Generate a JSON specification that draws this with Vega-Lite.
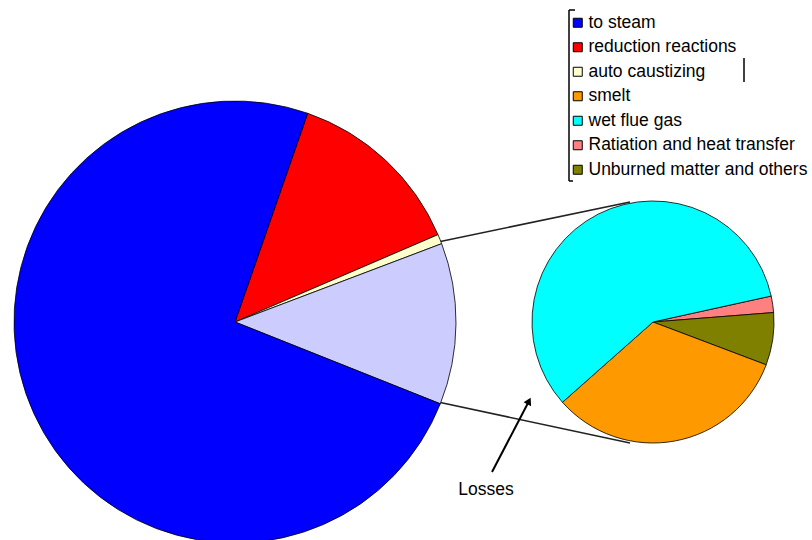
{
  "$schema": "https://vega.github.io/schema/vega-lite/v6.json",
  "width": 812,
  "height": 540,
  "autosize": {"type": "none"},
  "padding": 0,
  "background": "white",
  "config": {"view": {"stroke": null}},
  "data": {"values": [{}]},
  "datasets": {
    "big": [
      {"name": "reduction reactions", "value": 13.2, "ord": 1},
      {"name": "auto caustizing", "value": 0.7, "ord": 2},
      {"name": "Losses", "value": 11.8, "ord": 3},
      {"name": "to steam", "value": 74.3, "ord": 4}
    ],
    "small": [
      {"name": "Ratiation and heat transfer", "value": 2.2, "ord": 1},
      {"name": "Unburned matter and others", "value": 7.0, "ord": 2},
      {"name": "smelt", "value": 32.7, "ord": 3},
      {"name": "wet flue gas", "value": 58.1, "ord": 4}
    ]
  },
  "resolve": {"scale": {"theta": "independent"}},
  "layer": [
    {
      "mark": {"type": "rule", "color": "#222", "strokeWidth": 1.6},
      "encoding": {
        "x": {"datum": 438, "type": "quantitative", "scale": {"domain": [0, 812], "nice": false, "zero": false}, "axis": null},
        "y": {"datum": 242, "type": "quantitative", "scale": {"domain": [0, 540], "nice": false, "zero": false, "reverse": true}, "axis": null},
        "x2": {"datum": 630},
        "y2": {"datum": 202}
      }
    },
    {
      "mark": {"type": "rule", "color": "#222", "strokeWidth": 1.6},
      "encoding": {
        "x": {"datum": 438, "type": "quantitative"},
        "y": {"datum": 402, "type": "quantitative"},
        "x2": {"datum": 630},
        "y2": {"datum": 443}
      }
    },
    {
      "data": {"name": "big"},
      "mark": {"type": "arc", "radius": 221, "stroke": "#000", "strokeWidth": 0.8},
      "encoding": {
        "x": {"datum": 235, "type": "quantitative"},
        "y": {"datum": 322, "type": "quantitative"},
        "theta": {"field": "value", "type": "quantitative", "stack": true, "scale": {"range": [0.3351, 6.6183]}},
        "order": {"field": "ord", "type": "quantitative"},
        "color": {
          "field": "name", "type": "nominal",
          "scale": {
            "domain": ["to steam", "reduction reactions", "auto caustizing", "smelt", "wet flue gas", "Ratiation and heat transfer", "Unburned matter and others", "Losses"],
            "range": ["#0000FF", "#FF0000", "#FFFFCC", "#FF9900", "#00FFFF", "#FF8080", "#808000", "#CCCCFF"]
          },
          "legend": {
            "orient": "none", "legendX": 569, "legendY": 14, "title": null,
            "values": ["to steam", "reduction reactions", "auto caustizing", "smelt", "wet flue gas", "Ratiation and heat transfer", "Unburned matter and others"],
            "symbolType": "square", "symbolSize": 81, "symbolStrokeColor": "#000", "symbolStrokeWidth": 1,
            "labelFont": "Liberation Sans", "labelFontSize": 17.5, "labelColor": "#000", "labelOffset": 2,
            "rowPadding": 5.5, "padding": 0, "labelLimit": 400
          }
        }
      }
    },
    {
      "data": {"name": "small"},
      "mark": {"type": "arc", "radius": 121, "stroke": "#000", "strokeWidth": 0.8},
      "encoding": {
        "x": {"datum": 653, "type": "quantitative"},
        "y": {"datum": 322, "type": "quantitative"},
        "theta": {"field": "value", "type": "quantitative", "stack": true, "scale": {"range": [1.3544, 7.6376]}},
        "order": {"field": "ord", "type": "quantitative"},
        "color": {
          "field": "name", "type": "nominal",
          "legend": {
            "orient": "none", "legendX": 569, "legendY": 14, "title": null,
            "values": ["to steam", "reduction reactions", "auto caustizing", "smelt", "wet flue gas", "Ratiation and heat transfer", "Unburned matter and others"],
            "symbolType": "square", "symbolSize": 81, "symbolStrokeColor": "#000", "symbolStrokeWidth": 1,
            "labelFont": "Liberation Sans", "labelFontSize": 17.5, "labelColor": "#000", "labelOffset": 2,
            "rowPadding": 5.5, "padding": 0, "labelLimit": 400
          }
        }
      }
    },
    {
      "mark": {"type": "rule", "color": "#000", "strokeWidth": 2},
      "encoding": {
        "x": {"datum": 492, "type": "quantitative"},
        "y": {"datum": 472, "type": "quantitative"},
        "x2": {"datum": 528},
        "y2": {"datum": 403}
      }
    },
    {
      "mark": {"type": "point", "shape": "triangle-up", "filled": true, "color": "#000", "size": 70, "opacity": 1, "angle": 27},
      "encoding": {
        "x": {"datum": 529, "type": "quantitative"},
        "y": {"datum": 401, "type": "quantitative"}
      }
    },
    {
      "mark": {"type": "text", "text": "Losses", "font": "Liberation Sans", "fontSize": 17.5, "color": "#000", "align": "center", "baseline": "middle"},
      "encoding": {
        "x": {"datum": 486, "type": "quantitative"},
        "y": {"datum": 490, "type": "quantitative"}
      }
    },
    {
      "mark": {"type": "rule", "color": "#000", "strokeWidth": 1.5},
      "encoding": {
        "x": {"datum": 569, "type": "quantitative"},
        "y": {"datum": 10, "type": "quantitative"},
        "x2": {"datum": 569},
        "y2": {"datum": 181}
      }
    },
    {
      "mark": {"type": "rule", "color": "#000", "strokeWidth": 1.5},
      "encoding": {
        "x": {"datum": 569, "type": "quantitative"},
        "y": {"datum": 10, "type": "quantitative"},
        "x2": {"datum": 575},
        "y2": {"datum": 10}
      }
    },
    {
      "mark": {"type": "rule", "color": "#000", "strokeWidth": 1.5},
      "encoding": {
        "x": {"datum": 569, "type": "quantitative"},
        "y": {"datum": 181, "type": "quantitative"},
        "x2": {"datum": 573},
        "y2": {"datum": 181}
      }
    },
    {
      "mark": {"type": "rule", "color": "#000", "strokeWidth": 1.5},
      "encoding": {
        "x": {"datum": 744, "type": "quantitative"},
        "y": {"datum": 58, "type": "quantitative"},
        "x2": {"datum": 744},
        "y2": {"datum": 82}
      }
    }
  ]
}
